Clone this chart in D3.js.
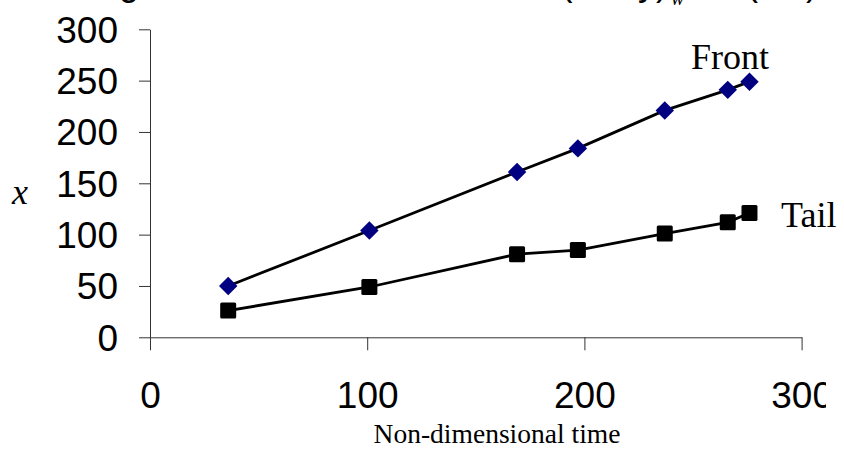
<!DOCTYPE html>
<html>
<head>
<meta charset="utf-8">
<script src="https://cdn.jsdelivr.net/npm/d3@7/dist/d3.min.js"></script>
<style>
  html, body { margin: 0; padding: 0; background: #fff; }
  svg { display: block; }
</style>
</head>
<body>
<script>
// ---- data ----
const times = [36, 101, 169, 197, 237, 266, 276];
const frontX = [50, 104, 161, 184, 221, 241, 249];
const tailX = [26, 49, 81, 85, 101, 112, 121];
const xTicks = [0, 100, 200, 300];
const yTicks = [0, 50, 100, 150, 200, 250, 300];
const seriesNames = ["Front", "Tail"];

const W = 844, H = 450;
const svg = d3.select("body").append("svg").attr("width", W).attr("height", H);

const x = d3.scaleLinear().domain([0, 300]).range([150, 801.6]);
const y = d3.scaleLinear().domain([0, 300]).range([337.3, 29.3]);

const sans = "'Liberation Sans', Arial, Helvetica, sans-serif";
const serif = "'Liberation Serif', 'Times New Roman', Times, serif";

// title at the very top, cut off by the picture's edge as in the reference
const title = svg.append("g").attr("font-family", sans).attr("font-size", 36).attr("fill", "#000");
title.append("text").attr("x", 139).attr("y", -5).attr("text-anchor", "end").text("Fig");
title.append("text").attr("x", 668).attr("y", -5).attr("text-anchor", "end").text("(∂u/∂y)");
title.append("text").attr("x", 671).attr("y", 5).attr("font-family", serif)
  .attr("font-style", "italic").attr("font-size", 20).text("w");
title.append("text").attr("x", 746).attr("y", -5).text("(1/s)");

// clip for x tick labels (reference cuts "300" on the right)
svg.append("defs").append("clipPath").attr("id", "xclip")
  .append("rect").attr("x", -200).attr("y", -20).attr("width", 826 + 200).attr("height", 200);

// y axis
const yAxis = svg.append("g").attr("transform", `translate(${x(0)},0)`)
  .call(d3.axisLeft(y).tickValues(yTicks).tickSize(11).tickSizeOuter(0).tickPadding(21));
yAxis.selectAll("text").attr("font-family", sans).attr("font-size", 37).attr("fill", "#000").attr("dy", "0.35em");

// x axis
const xAxis = svg.append("g").attr("transform", `translate(0,${y(0)})`)
  .call(d3.axisBottom(x).tickValues(xTicks).tickSize(13).tickSizeOuter(0).tickPadding(31));
xAxis.attr("clip-path", "url(#xclip)");
xAxis.selectAll("text").attr("font-family", sans).attr("font-size", 37).attr("fill", "#000");
svg.selectAll(".domain, .tick line").attr("stroke", "#333").attr("stroke-width", 1);

// axis titles
svg.append("text").attr("x", 497).attr("y", 443).attr("text-anchor", "middle")
  .attr("font-family", serif).attr("font-size", 27)
  .attr("textLength", 247).attr("lengthAdjust", "spacingAndGlyphs")
  .text("Non-dimensional time");
svg.append("text").attr("x", 12).attr("y", 204)
  .attr("font-family", serif).attr("font-style", "italic").attr("font-size", 36).text("x");

// lines
const frontData = times.map((t, i) => [t, frontX[i]]);
const tailData = times.map((t, i) => [t, tailX[i]]);
const line = d3.line().x(d => x(d[0])).y(d => y(d[1]));

svg.append("path").datum(frontData).attr("d", line)
  .attr("fill", "none").attr("stroke", "#000").attr("stroke-width", 2.8);
svg.append("path").datum(tailData).attr("d", line)
  .attr("fill", "none").attr("stroke", "#000").attr("stroke-width", 2.8);

// markers
const diamond = d3.symbol().type(d3.symbolSquare).size(170);
svg.append("g").selectAll("path").data(frontData).join("path")
  .attr("d", diamond)
  .attr("transform", d => `translate(${x(d[0])},${y(d[1])}) rotate(45)`)
  .attr("fill", "#000080");

svg.append("g").selectAll("rect").data(tailData).join("rect")
  .attr("x", d => x(d[0]) - 8).attr("y", d => y(d[1]) - 8)
  .attr("width", 16).attr("height", 16).attr("rx", 1.5)
  .attr("fill", "#000");

// series labels
svg.append("text").attr("x", 691).attr("y", 69).attr("font-family", serif).attr("font-size", 36)
  .text(seriesNames[0]);
svg.append("text").attr("x", 781).attr("y", 227).attr("font-family", serif).attr("font-size", 36)
  .text(seriesNames[1]);
</script>
</body>
</html>
